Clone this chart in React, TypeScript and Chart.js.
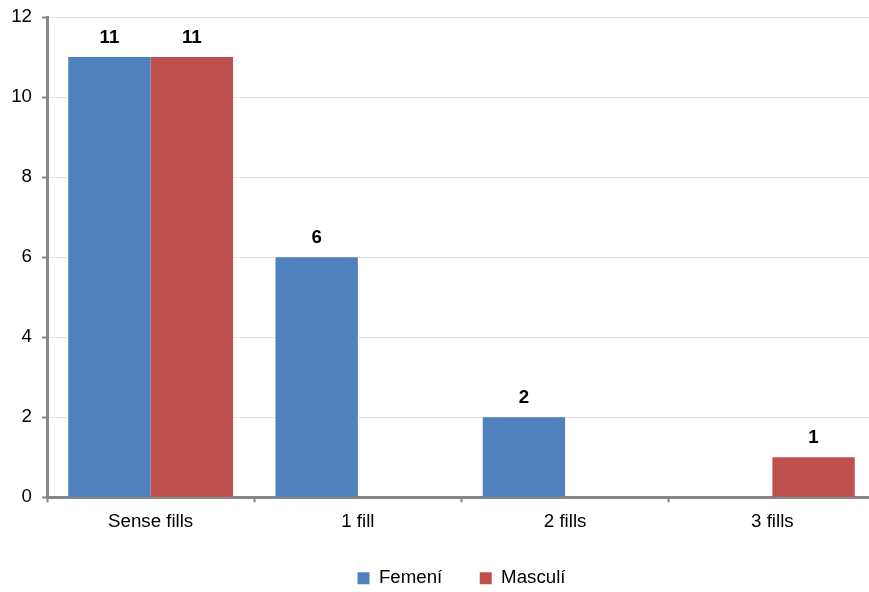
import React, { useEffect, useRef } from "react";
import { Chart, registerables } from "chart.js";

Chart.register(...registerables);

const categories = ["Sense fills", "1 fill", "2 fills", "3 fills"];
const femeni = [11, 6, 2, 0];
const masculi = [11, 0, 0, 1];
const seriesNames = ["Femení", "Masculí"];
const yTicks = [0, 2, 4, 6, 8, 10, 12];

const FONT = "'Liberation Sans', Arial, sans-serif";
const FS = 18.7;
const AXIS = "#868686";

const valueLabels = {
  id: "valueLabels",
  afterDatasetsDraw(chart: any) {
    const ctx = chart.ctx;
    ctx.save();
    ctx.font = `bold ${FS}px ${FONT}`;
    ctx.fillStyle = "#000";
    ctx.textAlign = "center";
    ctx.textBaseline = "alphabetic";
    chart.data.datasets.forEach((ds: any, di: number) => {
      const meta = chart.getDatasetMeta(di);
      meta.data.forEach((bar: any, i: number) => {
        const v = ds.data[i];
        if (!v) return;
        ctx.fillText(String(v), bar.x, bar.y - 14);
      });
    });
    ctx.restore();
  },
};

export default function App() {
  const ref = useRef<HTMLCanvasElement | null>(null);
  useEffect(() => {
    if (!ref.current) return;
    const chart = new Chart(ref.current, {
      type: "bar",
      data: {
        labels: categories,
        datasets: [
          { label: seriesNames[0], data: femeni, backgroundColor: "#4F81BD" },
          { label: seriesNames[1], data: masculi, backgroundColor: "#C0504D" },
        ],
      },
      options: {
        animation: false,
        responsive: false,
        maintainAspectRatio: false,
        layout: { padding: { left: 0, right: 4, top: 17, bottom: -5.5 } },
        datasets: { bar: { categoryPercentage: 0.795, barPercentage: 1 } } as any,
        scales: {
          x: {
            offset: true,
            grid: {
              display: true,
              offset: true,
              drawOnChartArea: false,
              tickLength: 5,
              tickColor: AXIS,
              tickWidth: 2,
            },
            border: { color: AXIS, width: 3 },
            ticks: { color: "#000", font: { family: FONT, size: FS }, padding: 8 },
            afterFit(scale: any) {
              scale.height = 34;
              scale.paddingLeft = 0;
              scale.paddingRight = 0;
            },
          },
          y: {
            min: 0,
            max: 12,
            afterBuildTicks(scale: any) {
              scale.ticks = yTicks.map((v) => ({ value: v }));
            },
            grid: {
              color: "#e3e3e3",
              lineWidth: 1,
              tickLength: 5,
              tickColor: AXIS,
              tickWidth: 2,
            },
            border: { color: AXIS, width: 3 },
            ticks: { color: "#000", font: { family: FONT, size: FS }, padding: 10 },
            afterFit(scale: any) {
              scale.width = 47;
              scale.paddingTop = 0;
              scale.paddingBottom = 0;
            },
          },
        },
        plugins: {
          legend: {
            position: "bottom",
            fullSize: false,
            labels: {
              boxWidth: 12,
              boxHeight: 12,
              padding: 37.5,
              color: "#000",
              font: { family: FONT, size: FS },
            },
          },
          tooltip: { enabled: false },
        },
      },
      plugins: [valueLabels],
    });
    return () => chart.destroy();
  }, []);
  return (
    <div style={{ position: "absolute", left: 0, top: 0, width: 869, height: 592, overflow: "hidden", background: "#fff" }}>
      <canvas ref={ref} width={880} height={592} style={{ display: "block", width: 880, height: 592 }} />
    </div>
  );
}
